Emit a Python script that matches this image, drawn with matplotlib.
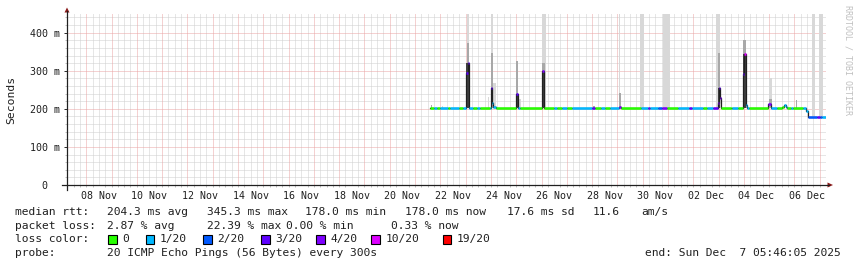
import numpy as np
import matplotlib
matplotlib.use("Agg")
import matplotlib.pyplot as plt
from matplotlib.lines import Line2D
from matplotlib.patches import Rectangle, Polygon

# ---------------- data ----------------
# time axis: days since 1 Nov 2025 00:00 (so 1 Dec = 31)
t_start, t_end = 7.24, 37.24

xtick_labels = ["08 Nov", "10 Nov", "12 Nov", "14 Nov", "16 Nov", "18 Nov", "20 Nov",
                "22 Nov", "24 Nov", "26 Nov", "28 Nov", "30 Nov", "02 Dec", "04 Dec", "06 Dec"]
ytick_values = [0, 100, 200, 300, 400]
ytick_labels = ["0  ", "100 m", "200 m", "300 m", "400 m"]

# median rtt (ms) as steps: start time, value, loss class index
med_t = [21.60, 21.75, 21.85, 22.00, 22.30, 22.40, 22.75, 22.90, 23.02, 23.08,
         23.14, 23.30, 23.45, 23.55, 23.95, 24.00, 24.06, 24.10, 24.20, 25.00,
         25.08, 25.15, 26.00, 26.10, 26.50, 26.60, 26.80, 27.00, 27.20, 28.00,
         28.12, 28.35, 28.50, 28.70, 29.05, 29.15, 29.95, 30.20, 30.30, 30.60,
         30.75, 30.95, 31.40, 31.85, 31.95, 32.40, 32.55, 32.80, 32.97, 33.00,
         33.04, 33.08, 33.50, 33.55, 33.75, 33.98, 34.02, 34.08, 34.12, 34.20,
         34.96, 35.08, 35.30, 35.50, 35.58, 35.66, 35.72, 35.85, 35.95, 36.35,
         36.45, 36.55, 36.90, 37.00, 37.10]
med_v = [201, 201, 201, 201, 201, 201, 201, 201, 294, 320,
         201, 201, 201, 201, 201, 254, 215, 205, 201, 240,
         201, 201, 300, 201, 201, 201, 201, 201, 201, 202,
         201, 201, 201, 201, 205, 201, 201, 201, 201, 201,
         201, 201, 201, 201, 201, 201, 201, 201, 215, 254,
         228, 201, 203, 201, 201, 291, 345, 210, 201, 201,
         214, 201, 201, 206, 210, 205, 201, 201, 201, 201,
         195, 178, 178, 178, 178]
med_loss = [0, 1, 0, 1, 0, 1, 0, 1, 3, 3,
            1, 0, 1, 0, 1, 3, 1, 1, 0, 3,
            1, 0, 4, 0, 1, 0, 1, 0, 1, 3,
            0, 1, 0, 1, 4, 0, 1, 3, 1, 2,
            4, 0, 1, 3, 1, 0, 1, 3, 4, 3,
            4, 0, 0, 1, 0, 3, 5, 1, 1, 0,
            4, 1, 0, 0, 1, 1, 0, 1, 0, 1,
            1, 2, 3, 2, 1]

# smoke (ping spread): start, end, low, high, shade (0 light, 1 medium, 2 dark)
smoke_t0 = [21.62, 22.07, 23.06, 23.06, 23.02, 23.88, 24.02, 24.00, 24.07, 24.00,
            24.98, 25.08, 25.00, 26.00, 26.00, 26.00, 28.05, 29.08, 29.06, 29.90,
            30.79, 32.90, 32.96, 33.06, 32.97, 34.00, 33.98, 34.10, 33.98, 35.00,
            35.00, 36.08, 36.68, 36.97]
smoke_t1 = [21.66, 22.11, 23.13, 23.13, 23.12, 23.93, 24.07, 24.08, 24.19, 24.06,
            25.08, 25.18, 25.06, 26.16, 26.12, 26.08, 28.12, 29.11, 29.14, 30.06,
            31.08, 33.06, 33.05, 33.12, 33.06, 34.05, 34.10, 34.14, 34.08, 35.13,
            35.10, 36.11, 36.80, 37.13]
smoke_lo = [201, 201, 372, 320, 201, 201, 201, 201, 201, 201,
            201, 201, 201, 201, 300, 201, 201, 201, 201, 201,
            201, 201, 201, 201, 201, 201, 201, 201, 201, 201,
            201, 201, 178, 178]
smoke_hi = [210, 207, 460, 372, 320, 232, 460, 346, 269, 254,
            325, 225, 240, 460, 320, 300, 208, 460, 242, 460,
            460, 460, 346, 230, 254, 460, 381, 223, 344, 281,
            225, 222, 460, 460]
smoke_shade = [1, 0, 0, 1, 2, 0, 0, 1, 0, 2,
               1, 0, 2, 0, 1, 2, 1, 0, 1, 0,
               0, 0, 1, 0, 2, 0, 1, 1, 2, 0,
               1, 1, 0, 0]

loss_labels = ["0", "1/20", "2/20", "3/20", "4/20", "10/20", "19/20"]
loss_colors = ["#26ff00", "#00b8ff", "#0059ff", "#5e00ff", "#7e00ff", "#dd00ff", "#ff0000"]
shade_colors = ["#d8d8d8", "#a8a8a8", "#404040"]

stat_rows = [
    ("median rtt:", ["204.3 ms avg", "345.3 ms max", "178.0 ms min", "178.0 ms now",
                     "17.6 ms sd", "11.6", "am/s"]),
    ("packet loss:", ["2.87 % avg", "22.39 % max", "0.00 % min", "0.33 % now"]),
]
probe_text = "20 ICMP Echo Pings (56 Bytes) every 300s"
end_text = "end: Sun Dec  7 05:46:05 2025"

# ---------------- layout ----------------
W, H = 857, 267
def fx(px):
    return px / W
def fy(py):
    return 1 - py / H

MONO = "DejaVu Sans Mono"
plt.rcParams["font.family"] = [MONO]

fig = plt.figure(figsize=(W / 100, H / 100), dpi=100)
fig.patch.set_facecolor("white")

ax_left, ax_right, ax_bottom = 67, 825.8, 185
ymax = 448
px_per_ms = 0.3808
ax_top = ax_bottom - ymax * px_per_ms
ax = fig.add_axes([fx(ax_left), fy(ax_bottom), (ax_right - ax_left) / W,
                   (ax_bottom - ax_top) / H])
ax.set_xlim(t_start, t_end)
ax.set_ylim(0, ymax)
ax.set_facecolor("white")
for s in ax.spines.values():
    s.set_visible(False)

# grid (1px dotted lines snapped to pixel centres)
px = 0.72
dot = (0, (1, 1))
minor_grey = "#cfcfcf"
major_red = "#eaa4a4"
gkw = dict(lw=px, ls=dot, snap=True)
for q in np.arange(7.25, t_end, 0.25):
    if abs(q - round(q)) < 1e-6:
        continue
    ax.axvline(q, color=minor_grey, zorder=0, **gkw)
for d in range(8, 38):
    ax.axvline(d, color=major_red, zorder=0.5, **gkw)
for yv in range(20, 447, 20):
    if yv % 100 == 0:
        ax.axhline(yv, color=major_red, zorder=0.5, **gkw)
    else:
        ax.axhline(yv, color=minor_grey, zorder=0, **gkw)

# smoke
for a, b, lo, hi, sh in zip(smoke_t0, smoke_t1, smoke_lo, smoke_hi, smoke_shade):
    ax.bar(a, hi - lo, bottom=lo, width=b - a, align="edge",
           color=shade_colors[sh], linewidth=0, zorder=1 + sh * 0.1)

# median: thin black step line, coloured by loss on top
st = list(med_t) + [t_end]
sv = list(med_v) + [med_v[-1]]
ax.step(st, sv, where="post", color="#202020", lw=0.9, zorder=3)
ax.hlines(med_v, med_t, st[1:], colors=[loss_colors[i] for i in med_loss],
          lw=1.8, zorder=4, capstyle="butt")

# ticks
ax.set_xticks(np.arange(8.5, 37, 2), xtick_labels)
ax.set_xticks(np.arange(7.25, t_end, 0.25), minor=True)
ax.set_yticks(ytick_values, ytick_labels)
ax.set_yticks(np.arange(20, 447, 20), minor=True)
ax.tick_params(axis="x", which="major", length=0, pad=4.2, labelsize=7.2,
               labelcolor="#202020")
ax.tick_params(axis="x", which="minor", length=1.5, width=0.72, color="#c0c0c0")
ax.tick_params(axis="y", which="major", length=2.2, width=0.72, color="#303030",
               pad=2.6, labelsize=7.2, labelcolor="#202020")
ax.tick_params(axis="y", which="minor", length=1.5, width=0.72, color="#c0c0c0")

# axes with arrows
axis_col = "#202020"
arrow_col = "#8b1a1a"
fig.add_artist(Line2D([fx(62), fx(829)], [fy(185), fy(185)], color=axis_col, lw=0.9))
fig.add_artist(Line2D([fx(67), fx(67)], [fy(190), fy(11)], color=axis_col, lw=0.9))
fig.add_artist(Polygon([[fx(827.5), fy(182.5)], [fx(833), fy(185)], [fx(827.5), fy(187.5)]],
                       closed=True, color=arrow_col, lw=0))
fig.add_artist(Polygon([[fx(64.5), fy(12.5)], [fx(67), fy(7.5)], [fx(69.5), fy(12.5)]],
                       closed=True, color=arrow_col, lw=0))

# y label and watermark
fig.text(fx(10.8), fy(99.7), "Seconds", rotation=90, ha="center", va="center",
         fontsize=8.2, color="#202020")
fig.text(fx(848), fy(60), "RRDTOOL / TOBI OETIKER", rotation=270, ha="center",
         va="center", fontsize=6.0, color="#c0c0c0")

# legend / statistics
txt_col = "#202020"
fs = 8.1
row_base = [215.3, 228.8, 242.3, 255.8]
stat_x = [[107.3, 207.3, 306.0, 406.0, 507.7, 593.3, 642.3],
          [107.3, 207.3, 286.5, 391.7]]
for r, (head, items) in enumerate(stat_rows):
    fig.text(fx(15.4), fy(row_base[r]), head, fontsize=fs, color=txt_col, va="baseline")
    for xpos, it in zip(stat_x[r], items):
        fig.text(fx(xpos - 0.6), fy(row_base[r]), it, fontsize=fs, color=txt_col,
                 va="baseline")

fig.text(fx(15.4), fy(row_base[2]), "loss color:", fontsize=fs, color=txt_col, va="baseline")
box_x = [108.3, 145.7, 203.0, 261.0, 316.0, 371.0, 442.7]
for bx, lab, col in zip(box_x, loss_labels, loss_colors):
    fig.add_artist(Rectangle((fx(bx), fy(243.5)), 8.5 / W, 8.7 / H, facecolor=col,
                             edgecolor="black", lw=0.8))
    fig.text(fx(bx + 14.4), fy(row_base[2]), lab, fontsize=fs, color=txt_col, va="baseline")

fig.text(fx(15.4), fy(row_base[3]), "probe:", fontsize=fs, color=txt_col, va="baseline")
fig.text(fx(106.7), fy(row_base[3]), probe_text, fontsize=fs, color=txt_col, va="baseline")
fig.text(fx(841), fy(row_base[3]), end_text, fontsize=fs, color=txt_col, va="baseline",
         ha="right")

fig.savefig("out.png", dpi=100, facecolor="white")
